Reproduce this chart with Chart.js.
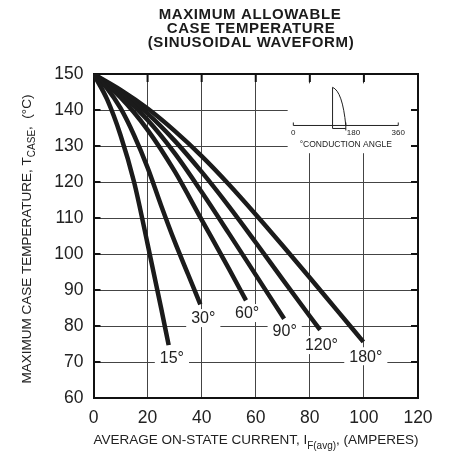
<!DOCTYPE html>
<html>
<head>
<meta charset="utf-8">
<script src="https://cdn.jsdelivr.net/npm/chart.js@4"></script>
<style>
html, body { margin: 0; padding: 0; background: #fff; }
</style>
</head>
<body>
<canvas id="myChart" width="450" height="451"></canvas>
<script>
// conduction angle labels
var angles = ['15°', '30°', '60°', '90°', '120°', '180°'];

// curves: current (A) and case temperature (°C)
var amps15 = [0, 5, 10, 15, 20, 25, 27.8];
var temp15 = [150, 143, 133, 120, 102.8, 85, 74.7];
var amps30 = [0, 5, 10, 15, 20, 25, 30, 35, 39.5];
var temp30 = [150, 146, 140.5, 133, 124, 113.5, 103.5, 94.3, 86];
var amps60 = [0, 10, 20, 30, 40, 50, 56.4];
var temp60 = [150, 143.5, 134.5, 123, 109.5, 96, 87.1];
var amps90 = [0, 10, 20, 30, 40, 50, 60, 70.5];
var temp90 = [150, 144.5, 137.2, 128, 117.2, 105.8, 94.2, 82];
var amps120 = [0, 10, 20, 30, 40, 50, 60, 70, 80, 83.8];
var temp120 = [150, 145, 139, 131.5, 122.8, 113.3, 103.2, 92.9, 82.7, 78.9];
var amps180 = [0, 10, 20, 30, 40, 50, 60, 70, 80, 90, 99.8];
var temp180 = [150, 145.6, 140.4, 134.2, 127.2, 119.4, 111, 102.3, 93.4, 84.4, 75.6];

// where each angle label sits
var labelAmps = [29.0, 40.6, 56.8, 70.7, 84.3, 100.7];
var labelTemps = [71.1, 82.2, 83.6, 78.6, 74.7, 71.6];

// axis ticks
var xTicks = [0, 20, 40, 60, 80, 100, 120];
var yTicks = [60, 70, 80, 90, 100, 110, 120, 130, 140, 150];

var FONT = '"Liberation Sans", Arial, Helvetica, sans-serif';

function pts(xs, ys) {
    return xs.map(function (v, i) { return { x: v, y: ys[i] }; });
}

var allAmps = [amps15, amps30, amps60, amps90, amps120, amps180];
var allTemps = [temp15, temp30, temp60, temp90, temp120, temp180];

var datasets = angles.map(function (a, i) {
    return {
        label: a,
        data: pts(allAmps[i], allTemps[i]),
        showLine: true,
        borderColor: '#1b1b1b',
        borderWidth: 4.5,
        pointRadius: 0,
        cubicInterpolationMode: 'monotone',
        borderCapStyle: 'butt'
    };
});

// text with a subscript piece, drawn from the left at baseline
function drawSubText(ctx, parts, x, y) {
    var cx = x;
    parts.forEach(function (p) {
        ctx.font = p.size + 'px ' + FONT;
        ctx.fillText(p.t, cx, y + (p.dy || 0));
        cx += ctx.measureText(p.t).width;
    });
}
function measureSubText(ctx, parts) {
    var w = 0;
    parts.forEach(function (p) {
        ctx.font = p.size + 'px ' + FONT;
        w += ctx.measureText(p.t).width;
    });
    return w;
}

var decor = {
    id: 'decor',
    beforeDatasetsDraw: function (chart) {
        var ctx = chart.ctx, a = chart.chartArea;
        var xs = chart.scales.x, ys = chart.scales.y;
        ctx.save();

        // blank box behind the inset
        var bx1 = xs.getPixelForValue(71.8), bx2 = xs.getPixelForValue(117.4);
        var by1 = ys.getPixelForValue(147.4), by2 = ys.getPixelForValue(128);
        ctx.fillStyle = '#fff';
        ctx.fillRect(bx1, by1, bx2 - bx1, by2 - by1);

        // top and right frame
        ctx.strokeStyle = '#111';
        ctx.lineWidth = 2;
        ctx.beginPath();
        ctx.moveTo(a.left, a.top); ctx.lineTo(a.right, a.top); ctx.lineTo(a.right, a.bottom);
        ctx.stroke();

        // inward ticks
        ctx.beginPath();
        yTicks.slice(1, -1).forEach(function (v) {
            var py = ys.getPixelForValue(v);
            ctx.moveTo(a.left, py); ctx.lineTo(a.left + 7, py);
            ctx.moveTo(a.right - 7, py); ctx.lineTo(a.right, py);
        });
        xTicks.slice(1, -1).forEach(function (v) {
            var px = xs.getPixelForValue(v);
            ctx.moveTo(px, a.top); ctx.lineTo(px, a.top + 8);
        });
        ctx.stroke();

        // inset: conduction angle sketch
        var x0 = xs.getPixelForValue(73.9), x360 = xs.getPixelForValue(112.7);
        var x180 = (x0 + x360) / 2;
        var xc = xs.getPixelForValue(88.4);
        var yb = ys.getPixelForValue(135.7), yt = ys.getPixelForValue(146.3);
        ctx.strokeStyle = '#222';
        ctx.lineWidth = 1;
        ctx.beginPath();
        ctx.moveTo(x0, yb - 3); ctx.lineTo(x0, yb); ctx.lineTo(x360, yb); ctx.lineTo(x360, yb - 3);
        ctx.moveTo(x180, yb - 3); ctx.lineTo(x180, yb + 5);
        ctx.moveTo(xc, yt); ctx.lineTo(xc, yb + 3); ctx.lineTo(x180, yb + 3);
        ctx.moveTo(xc, yt);
        ctx.quadraticCurveTo(xc + (x180 - xc) * 0.75, yt + 4, x180, yb);
        ctx.stroke();

        ctx.fillStyle = '#222';
        ctx.font = '8px ' + FONT;
        ctx.textBaseline = 'top';
        ctx.textAlign = 'center';
        ctx.fillText('0', x0, yb + 3);
        ctx.fillText('360', x360, yb + 3);
        ctx.textAlign = 'left';
        ctx.fillText('180', x180 + 1, yb + 3);
        ctx.textAlign = 'center';
        ctx.font = '8.5px ' + FONT;
        ctx.fillText('°CONDUCTION ANGLE', x180, yb + 15);

        // angle labels on white
        ctx.font = '16px ' + FONT;
        ctx.textBaseline = 'middle';
        angles.forEach(function (t, i) {
            var px = xs.getPixelForValue(labelAmps[i]);
            var py = ys.getPixelForValue(labelTemps[i]);
            var w = ctx.measureText(t).width;
            ctx.fillStyle = '#fff';
            ctx.fillRect(px - w / 2 - 5, py - 9, w + 10, 18);
            ctx.fillStyle = '#222';
            ctx.fillText(t, px, py + 1);
        });
        ctx.restore();
    },
    afterDraw: function (chart) {
        var ctx = chart.ctx, a = chart.chartArea;
        ctx.save();
        ctx.fillStyle = '#1b1b1b';
        ctx.textAlign = 'center';
        ctx.textBaseline = 'alphabetic';
        ctx.font = 'bold 15px ' + FONT;
        if ('letterSpacing' in ctx) ctx.letterSpacing = '0.6px';
        ctx.fillText('MAXIMUM ALLOWABLE', 250, 19);
        ctx.fillText('CASE TEMPERATURE', 251, 32.7);
        ctx.fillText('(SINUSOIDAL WAVEFORM)', 251, 46.5);
        if ('letterSpacing' in ctx) ctx.letterSpacing = '0px';

        ctx.textAlign = 'left';
        ctx.fillStyle = '#222';
        var xParts = [
            { t: 'AVERAGE ON-STATE CURRENT, I', size: 13.5 },
            { t: 'F(avg)', size: 10, dy: 5 },
            { t: ', (AMPERES)', size: 13.5 }
        ];
        var wx = measureSubText(ctx, xParts);
        drawSubText(ctx, xParts, 256 - wx / 2, 444);

        var yParts = [
            { t: 'MAXIMUM CASE TEMPERATURE, T', size: 13.5 },
            { t: 'CASE', size: 10, dy: 4 },
            { t: ',  (°C)', size: 13.5 }
        ];
        var wy = measureSubText(ctx, yParts);
        ctx.translate(30.5, 239);
        ctx.rotate(-Math.PI / 2);
        drawSubText(ctx, yParts, -wy / 2, 0);
        ctx.restore();
    }
};

var ctx = document.getElementById('myChart').getContext('2d');
var myChart = new Chart(ctx, {
    type: 'scatter',
    data: { datasets: datasets },
    options: {
        responsive: false,
        animation: false,
        devicePixelRatio: 1,
        layout: { padding: { top: 74, right: 32, left: 0, bottom: 0 } },
        plugins: {
            legend: { display: false },
            tooltip: { enabled: false }
        },
        scales: {
            x: {
                type: 'linear',
                min: 0,
                max: 120,
                afterFit: function (s) { s.height = 53; },
                afterBuildTicks: function (s) { s.ticks = xTicks.map(function (v) { return { value: v }; }); },
                ticks: { font: { family: FONT, size: 17.5 }, color: '#222', padding: 10 },
                grid: { color: '#444', lineWidth: 1, drawTicks: false },
                border: { color: '#111', width: 2 }
            },
            y: {
                type: 'linear',
                min: 60,
                max: 150,
                afterFit: function (s) { s.width = 93.5; },
                afterBuildTicks: function (s) { s.ticks = yTicks.map(function (v) { return { value: v }; }); },
                ticks: { font: { family: FONT, size: 17.5 }, color: '#222', padding: 10 },
                grid: { color: '#444', lineWidth: 1, drawTicks: false },
                border: { color: '#111', width: 2 }
            }
        }
    },
    plugins: [decor]
});
</script>
</body>
</html>
